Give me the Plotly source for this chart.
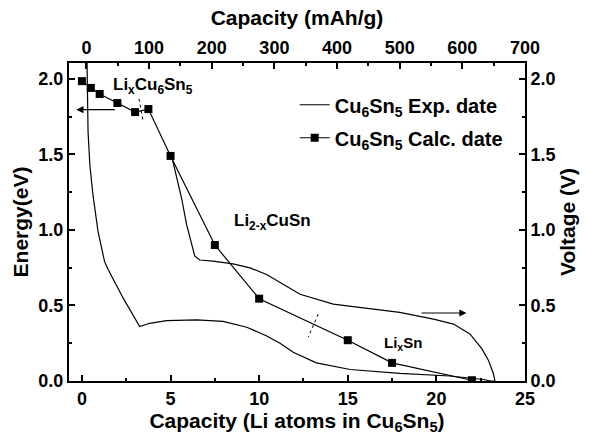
import plotly.graph_objects as go

# ---- data ----
# calculated energies (x: Li atoms in Cu6Sn5, y: eV)
calc_li = [0, 0.5, 1, 2, 3, 3.75, 5, 7.5, 10, 15, 17.5, 22]
calc_energy = [1.985, 1.94, 1.90, 1.84, 1.78, 1.80, 1.49, 0.90, 0.545, 0.27, 0.12, 0.005]

# experimental voltage profile (x: mAh/g, y: V)
exp_cap = [1.0, 1.5, 2.6, 5.5, 10.5, 18.5, 29, 34.5, 58.5, 85, 101, 128, 176, 218, 256, 287, 309,
           330, 367, 421, 500, 580, 634, 645,
           652, 649.5, 641.5, 631, 612, 586, 554, 500, 447, 394, 341, 309, 287.5, 261, 234, 202,
           181, 173, 168, 160, 152, 144, 136.5]
exp_volt = [2.11, 1.86, 1.65, 1.43, 1.23, 0.99, 0.79, 0.74, 0.55, 0.36, 0.382, 0.40, 0.404, 0.395, 0.356, 0.30, 0.25,
            0.19, 0.12, 0.076, 0.05, 0.033, 0.01, 0.0,
            0.0, 0.05, 0.138, 0.214, 0.312, 0.377, 0.41, 0.454, 0.482, 0.509, 0.574, 0.651, 0.705, 0.749, 0.775, 0.793,
            0.801, 0.826, 0.902, 1.033, 1.208, 1.36, 1.481]

x_range = [-0.73, 25]
top_range = [-27.8, 700]
y_range = [0, 2.105]

# phase labels (Li atoms, eV)
label_texts = ["Li<sub>x</sub>Cu<sub>6</sub>Sn<sub>5</sub>", "Li<sub>2-x</sub>CuSn", "Li<sub>x</sub>Sn"]
label_x = [1.66, 8.44, 16.92]
label_y = [1.955, 1.05, 0.25]
label_size = [17, 17, 15]

# arrows: (head x, head y, tail x, tail y)
arrows = [(-0.32, 1.796, 1.94, 1.796), (21.7, 0.45, 19.08, 0.45)]
# dotted phase boundaries
dots = [(3.22, 1.868, 3.45, 1.72), (13.33, 0.443, 12.77, 0.29)]

FONT = "Liberation Sans"

fig = go.Figure()
fig.add_trace(go.Scatter(
    x=exp_cap, y=exp_volt, xaxis="x2", yaxis="y2", mode="lines",
    line=dict(color="black", width=1.2),
    name="Cu<sub>6</sub>Sn<sub>5</sub> Exp. date", legendgroup="a"))
fig.add_trace(go.Scatter(
    x=calc_li, y=calc_energy, mode="lines+markers",
    line=dict(color="black", width=1.2),
    marker=dict(symbol="square", size=8, color="black"),
    name="Cu<sub>6</sub>Sn<sub>5</sub> Calc. date", legendgroup="b"))

tickfont = dict(family=FONT, size=18, color="black", weight="bold")
titlefont = dict(family=FONT, size=21, color="black", weight="bold")
common = dict(showline=True, linewidth=2, linecolor="black", ticks="inside", ticklen=6,
              tickwidth=1.5, tickcolor="black", showgrid=False, zeroline=False,
              tickfont=tickfont)
minor_t = dict(ticks="inside", ticklen=3, tickcolor="black", tickwidth=1.5)

fig.update_layout(
    width=589, height=440,
    margin=dict(l=69, r=64, t=63, b=56),
    paper_bgcolor="white", plot_bgcolor="white",
    font=dict(family=FONT, color="black", weight="bold"),
    xaxis=dict(range=x_range, dtick=5, tick0=0, minor=dict(dtick=2.5, **minor_t),
               title=dict(text="Capacity (Li atoms in Cu<sub>6</sub>Sn<sub>5</sub>)", font=titlefont, standoff=5),
               **common),
    xaxis2=dict(range=top_range, dtick=100, tick0=0, overlaying="x", side="top", anchor="y",
                minor=dict(dtick=50, **minor_t),
                title=dict(text="Capacity (mAh/g)", font=titlefont, standoff=6),
                **common),
    yaxis=dict(range=y_range, dtick=0.5, tick0=0, tickformat=".1f", minor=dict(dtick=0.25, **minor_t),
               title=dict(text="Energy(eV)", font=titlefont, standoff=4),
               **common),
    yaxis2=dict(range=y_range, dtick=0.5, tick0=0, tickformat=".1f", overlaying="y", side="right", anchor="x",
                minor=dict(dtick=0.25, **minor_t),
                title=dict(text="Voltage (V)", font=titlefont, standoff=4),
                **common),
    legend=dict(x=0.495, y=0.93, xanchor="left", yanchor="top", bgcolor="rgba(0,0,0,0)",
                font=dict(family=FONT, size=20, color="black", weight="bold"),
                traceorder="grouped", tracegroupgap=4, itemwidth=30),
    showlegend=True,
)

for t, lx, ly, s in zip(label_texts, label_x, label_y, label_size):
    fig.add_annotation(x=lx, y=ly, xref="x", yref="y", text=t, showarrow=False,
                       xanchor="left", yanchor="middle",
                       font=dict(family=FONT, size=s, color="black", weight="bold"))

for hx, hy, tx, ty in arrows:
    fig.add_annotation(x=hx, y=hy, ax=tx, ay=ty, xref="x", yref="y", axref="x", ayref="y",
                       text="", showarrow=True, arrowhead=2, arrowsize=1.2, arrowwidth=1.2,
                       arrowcolor="black")

for x0, y0, x1, y1 in dots:
    fig.add_shape(type="line", x0=x0, y0=y0, x1=x1, y1=y1, xref="x", yref="y",
                  line=dict(color="black", width=1, dash="dot"))

fig.write_html("out.html")
